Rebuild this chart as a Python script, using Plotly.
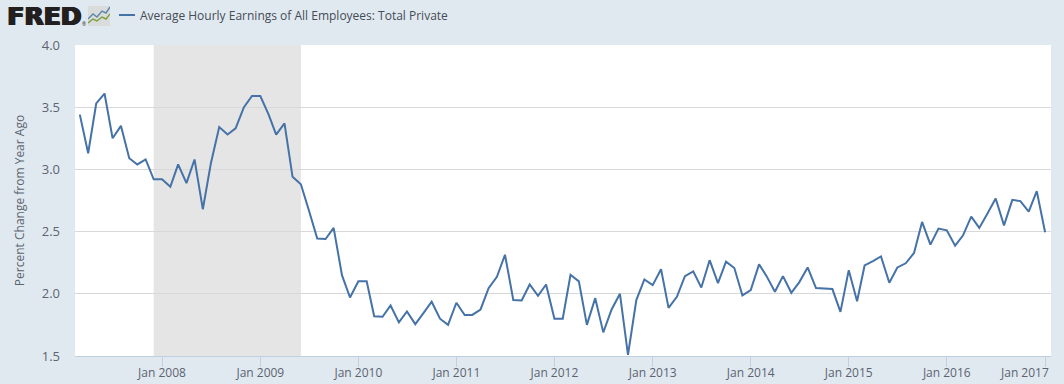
import plotly.graph_objects as go
import pandas as pd

start_month = "2007-03-01"
end_month = "2017-01-01"
series_name = "Average Hourly Earnings of All Employees: Total Private"
values = [
    3.44, 3.13, 3.53, 3.61, 3.25, 3.35, 3.09, 3.04, 3.08, 2.92,
    2.92, 2.86, 3.04, 2.89, 3.08, 2.68, 3.05, 3.34, 3.28, 3.33, 3.50, 3.59,
    3.59, 3.44, 3.28, 3.37, 2.94, 2.88, 2.67, 2.445, 2.44, 2.53, 2.15, 1.97,
    2.10, 2.10, 1.82, 1.815, 1.906, 1.77, 1.858, 1.756, 1.847, 1.936, 1.80, 1.75,
    1.928, 1.83, 1.83, 1.874, 2.045, 2.137, 2.314, 1.95, 1.946, 2.075, 1.984, 2.075,
    1.80, 1.80, 2.153, 2.10, 1.75, 1.965, 1.69, 1.874, 2.00, 1.51, 1.95, 2.115,
    2.07, 2.198, 1.887, 1.976, 2.142, 2.18, 2.05, 2.27, 2.086, 2.258, 2.207, 1.987,
    2.03, 2.237, 2.142, 2.016, 2.142, 2.008, 2.094, 2.212, 2.046, 2.043, 2.038, 1.855,
    2.19, 1.94, 2.228, 2.263, 2.30, 2.089, 2.212, 2.245, 2.328, 2.578, 2.395, 2.524,
    2.51, 2.387, 2.468, 2.62, 2.53, 2.648, 2.766, 2.55, 2.755, 2.745, 2.66, 2.825,
    2.495,
]
dates = pd.date_range(start_month, end_month, freq="MS")
assert len(dates) == len(values)
recession = ("2007-12-01", "2009-06-01")
x_range = ("2007-02-11", "2017-01-23")
y_ticks = [1.5, 2.0, 2.5, 3.0, 3.5, 4.0]
x_ticks = [f"{y}-01-01" for y in range(2008, 2018)]
x_tick_labels = [f"Jan {y}" for y in range(2008, 2017)] + [""]
last_tick_label = "Jan 2017"

BG = "#e1e9f0"
TEXT = "#5b6470"
LINE = "#4572a7"
FONT = "Open Sans"
W, H = 1064, 384
L, R, T, B = 75, 13, 45, 28
PW, PH = W - L - R, H - T - B
def px(x): return (x - L) / PW
def py(y): return (H - B - y) / PH

logo_icon = ("data:image/svg+xml;utf8,<svg xmlns='http://www.w3.org/2000/svg' width='22' height='20'>"
             "<rect width='22' height='20' fill='%23d9dcda'/>"
             "<polyline points='0,13 5,8 9,11 14,5 18,7 22,1' fill='none' stroke='%235f86ab' stroke-width='1.4'/>"
             "<polyline points='0,17 5,13 9,15 14,11 18,13 22,8' fill='none' stroke='%237d9f3f' stroke-width='1.4'/></svg>")

fig = go.Figure(go.Scatter(x=dates, y=values, mode="lines", name=series_name,
                           line=dict(color=LINE, width=2), hoverinfo="x+y"))
fig.add_shape(type="rect", xref="x", yref="paper", x0=recession[0], x1=recession[1], y0=0, y1=1,
              fillcolor="#e5e5e5", line_width=0, layer="below")
# header: logo and key
fig.add_annotation(text="FRED", xref="paper", yref="paper", x=px(6), y=py(16.5),
                   xanchor="left", yanchor="middle", showarrow=False, borderpad=0,
                   font=dict(family="DejaVu Sans", size=25, weight=700, color="#231f20",
                             shadow="0.7px 0 0 #231f20, -0.7px 0 0 #231f20, 1.3px 0 0 #231f20"))
fig.add_annotation(text="®", xref="paper", yref="paper", x=px(84), y=py(24),
                   xanchor="center", yanchor="middle", showarrow=False, borderpad=0,
                   font=dict(family=FONT, size=5, color="#231f20"))
fig.add_layout_image(source=logo_icon, xref="paper", yref="paper", x=px(88), y=py(6),
                     sizex=22 / PW, sizey=20 / PH, xanchor="left", yanchor="top", sizing="stretch")
fig.add_shape(type="line", xref="paper", yref="paper", x0=px(119), x1=px(135), y0=py(15), y1=py(15),
              line=dict(color=LINE, width=2))
fig.add_annotation(text=series_name, xref="paper", yref="paper", x=px(139), y=py(15),
                   xanchor="left", yanchor="middle", showarrow=False, borderpad=0,
                   font=dict(family=FONT, size=12, color="#444c55"))
fig.add_annotation(text=last_tick_label, xref="paper", yref="paper", x=px(1050), y=py(372),
                   xanchor="right", yanchor="middle", showarrow=False, borderpad=0,
                   font=dict(family=FONT, size=12, color=TEXT))
fig.update_layout(
    width=W, height=H, autosize=False,
    margin=dict(l=L, r=R, t=T, b=B, pad=0, autoexpand=False),
    paper_bgcolor=BG, plot_bgcolor="#ffffff",
    font=dict(family=FONT, size=12, color=TEXT),
    showlegend=False,
    xaxis=dict(type="date", range=list(x_range), tickmode="array", tickvals=x_ticks,
               ticktext=x_tick_labels, showgrid=False, showline=True, linecolor="#c0d0e0",
               linewidth=1, ticks="outside", ticklen=10, tickcolor="#c0d0e0",
               ticklabelstandoff=-4, tickfont=dict(size=12, color=TEXT)),
    yaxis=dict(range=[1.5, 4.0], tickmode="array", tickvals=y_ticks, tickformat=".1f",
               showgrid=True, gridcolor="#d8d8d8", gridwidth=1, zeroline=False, showline=False,
               ticks="", ticklabelstandoff=14, tickfont=dict(size=13, color=TEXT),
               title=dict(text="Percent Change from Year Ago", font=dict(size=12, color=TEXT), standoff=14)),
)
fig.write_html("out.html", config=dict(displayModeBar=False),
               post_script="document.body.style.margin='0';")
